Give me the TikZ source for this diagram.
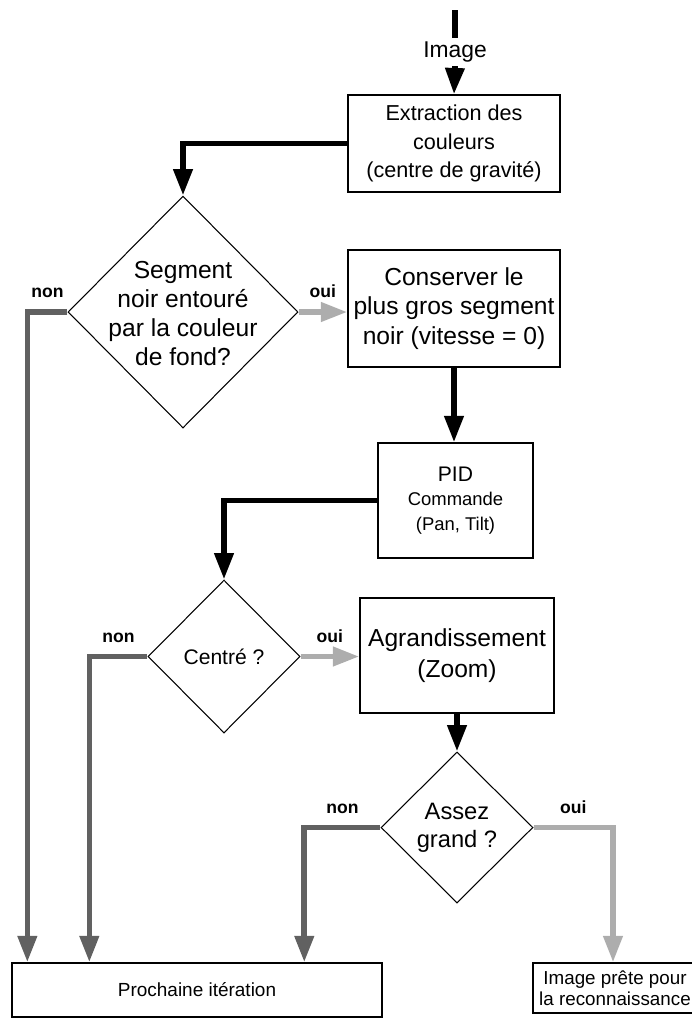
\documentclass[tikz,border=0pt]{standalone}
\usepackage{fontspec}
\setmainfont{Liberation Sans}
\usepackage{tikz}
\usetikzlibrary{calc}
\usetikzlibrary{positioning}
\usetikzlibrary{shapes.geometric}
\usetikzlibrary{arrows.meta}

\definecolor{nongris}{gray}{0.38}
\definecolor{ouigris}{gray}{0.68}

\begin{document}
\begin{tikzpicture}[x=0.02cm, y=-0.02cm,
		box/.style={draw, line width=0.8pt, inner sep=0pt, align=center},
		dec/.style={diamond, draw, line width=0.6pt, inner sep=0pt, aspect=1},
		flow/.style={line width=3.2pt, -{Triangle[length=15pt,width=10.5pt]}},
		noir/.style={flow, draw=black},
		non/.style={flow, draw=nongris},
		oui/.style={flow, draw=ouigris},
		rep/.style={text=black, font=\bfseries\fontsize{10}{12}\selectfont}]
				\useasboundingbox (0,0) rectangle (691,1019);
				
				\coordinate (in) at (455,10);
				\node[inner sep=2pt, font=\fontsize{13}{15}\selectfont] (img) at (455,52) {Image};
				\node[box, minimum width=4.24cm, minimum height=1.94cm, font=\fontsize{12.3}{16.4}\selectfont] (ext) at (454,143.5) {Extraction des\\couleurs\\(centre de gravité)};
				\node[dec, minimum width=4.6cm, minimum height=4.64cm] (d1) at (183,312) {};
				\node[align=center, font=\fontsize{14}{16.5}\selectfont] (d1t) at (183,314) {Segment\\noir entouré\\par la couleur\\de fond?};
				\node[box, minimum width=4.24cm, minimum height=2.34cm, font=\fontsize{14}{17}\selectfont] (cons) at (454,308.5) {Conserver le\\plus gros segment\\noir (vitesse = 0)};
				\node[box, minimum width=3.1cm, minimum height=2.3cm, font=\fontsize{12}{14}\selectfont] (pid) at (455.5,500.5) {PID\\{\fontsize{10.5}{13}\selectfont Commande}\\{\fontsize{10.5}{13}\selectfont (Pan, Tilt)}};
				\node[dec, minimum width=3.04cm, minimum height=3.06cm] (d2) at (224,656.5) {};
				\node[font=\fontsize{12}{14}\selectfont] (d2t) at (224,657) {Centré ?};
				\node[box, minimum width=3.88cm, minimum height=2.3cm, font=\fontsize{14}{18}\selectfont] (zoom) at (457,655.5) {Agrandissement\\(Zoom)};
				\node[dec, minimum width=3.04cm, minimum height=3.02cm] (d3) at (457,827.5) {};
				\node[align=center, font=\fontsize{13.5}{16}\selectfont] (d3t) at (457,828) {Assez\\grand ?};
				\node[box, minimum width=7.4cm, minimum height=1.08cm, font=\fontsize{10.8}{13}\selectfont] (iter) at (197,990) {Prochaine itération};
				\node[box, minimum width=3.28cm, minimum height=1.0cm, font=\fontsize{10.7}{12}\selectfont] (ready) at (615,988) {Image prête pour\\la reconnaissance};
				
				\draw[line width=3.6pt]  (in) -- (img.north);
				\draw[noir]  (img.south) -- (ext.north);
				\draw[noir]  (ext.west) -| (d1.north);
				\draw[non]  (d1.west) -| ([xshift=0.32cm]iter.north west) node[rep, pos=0.25, above=3pt] () {non};
				\draw[oui]  (d1.east) -- (d1.east -| cons.west) node[rep, midway, above=3pt] () {oui};
				\draw[noir]  (cons.south) -- (cons.south |- pid.north);
				\draw[noir]  (pid.west) -| (d2.north);
				\draw[non]  (d2.west) -| ([xshift=1.56cm]iter.north west) node[rep, pos=0.25, above=3pt] () {non};
				\draw[oui]  (d2.east) -- (d2.east -| zoom.west) node[rep, midway, above=3pt] () {oui};
				\draw[noir]  (zoom.south) -- (d3.north);
				\draw[non]  (d3.west) -| ([xshift=5.86cm]iter.north west) node[rep, pos=0.25, above=3pt] () {non};
				\draw[oui]  (d3.east) -| ([xshift=-0.04cm]ready.north) node[rep, pos=0.25, above=3pt] () {oui};
			\end{tikzpicture}
\end{document}
